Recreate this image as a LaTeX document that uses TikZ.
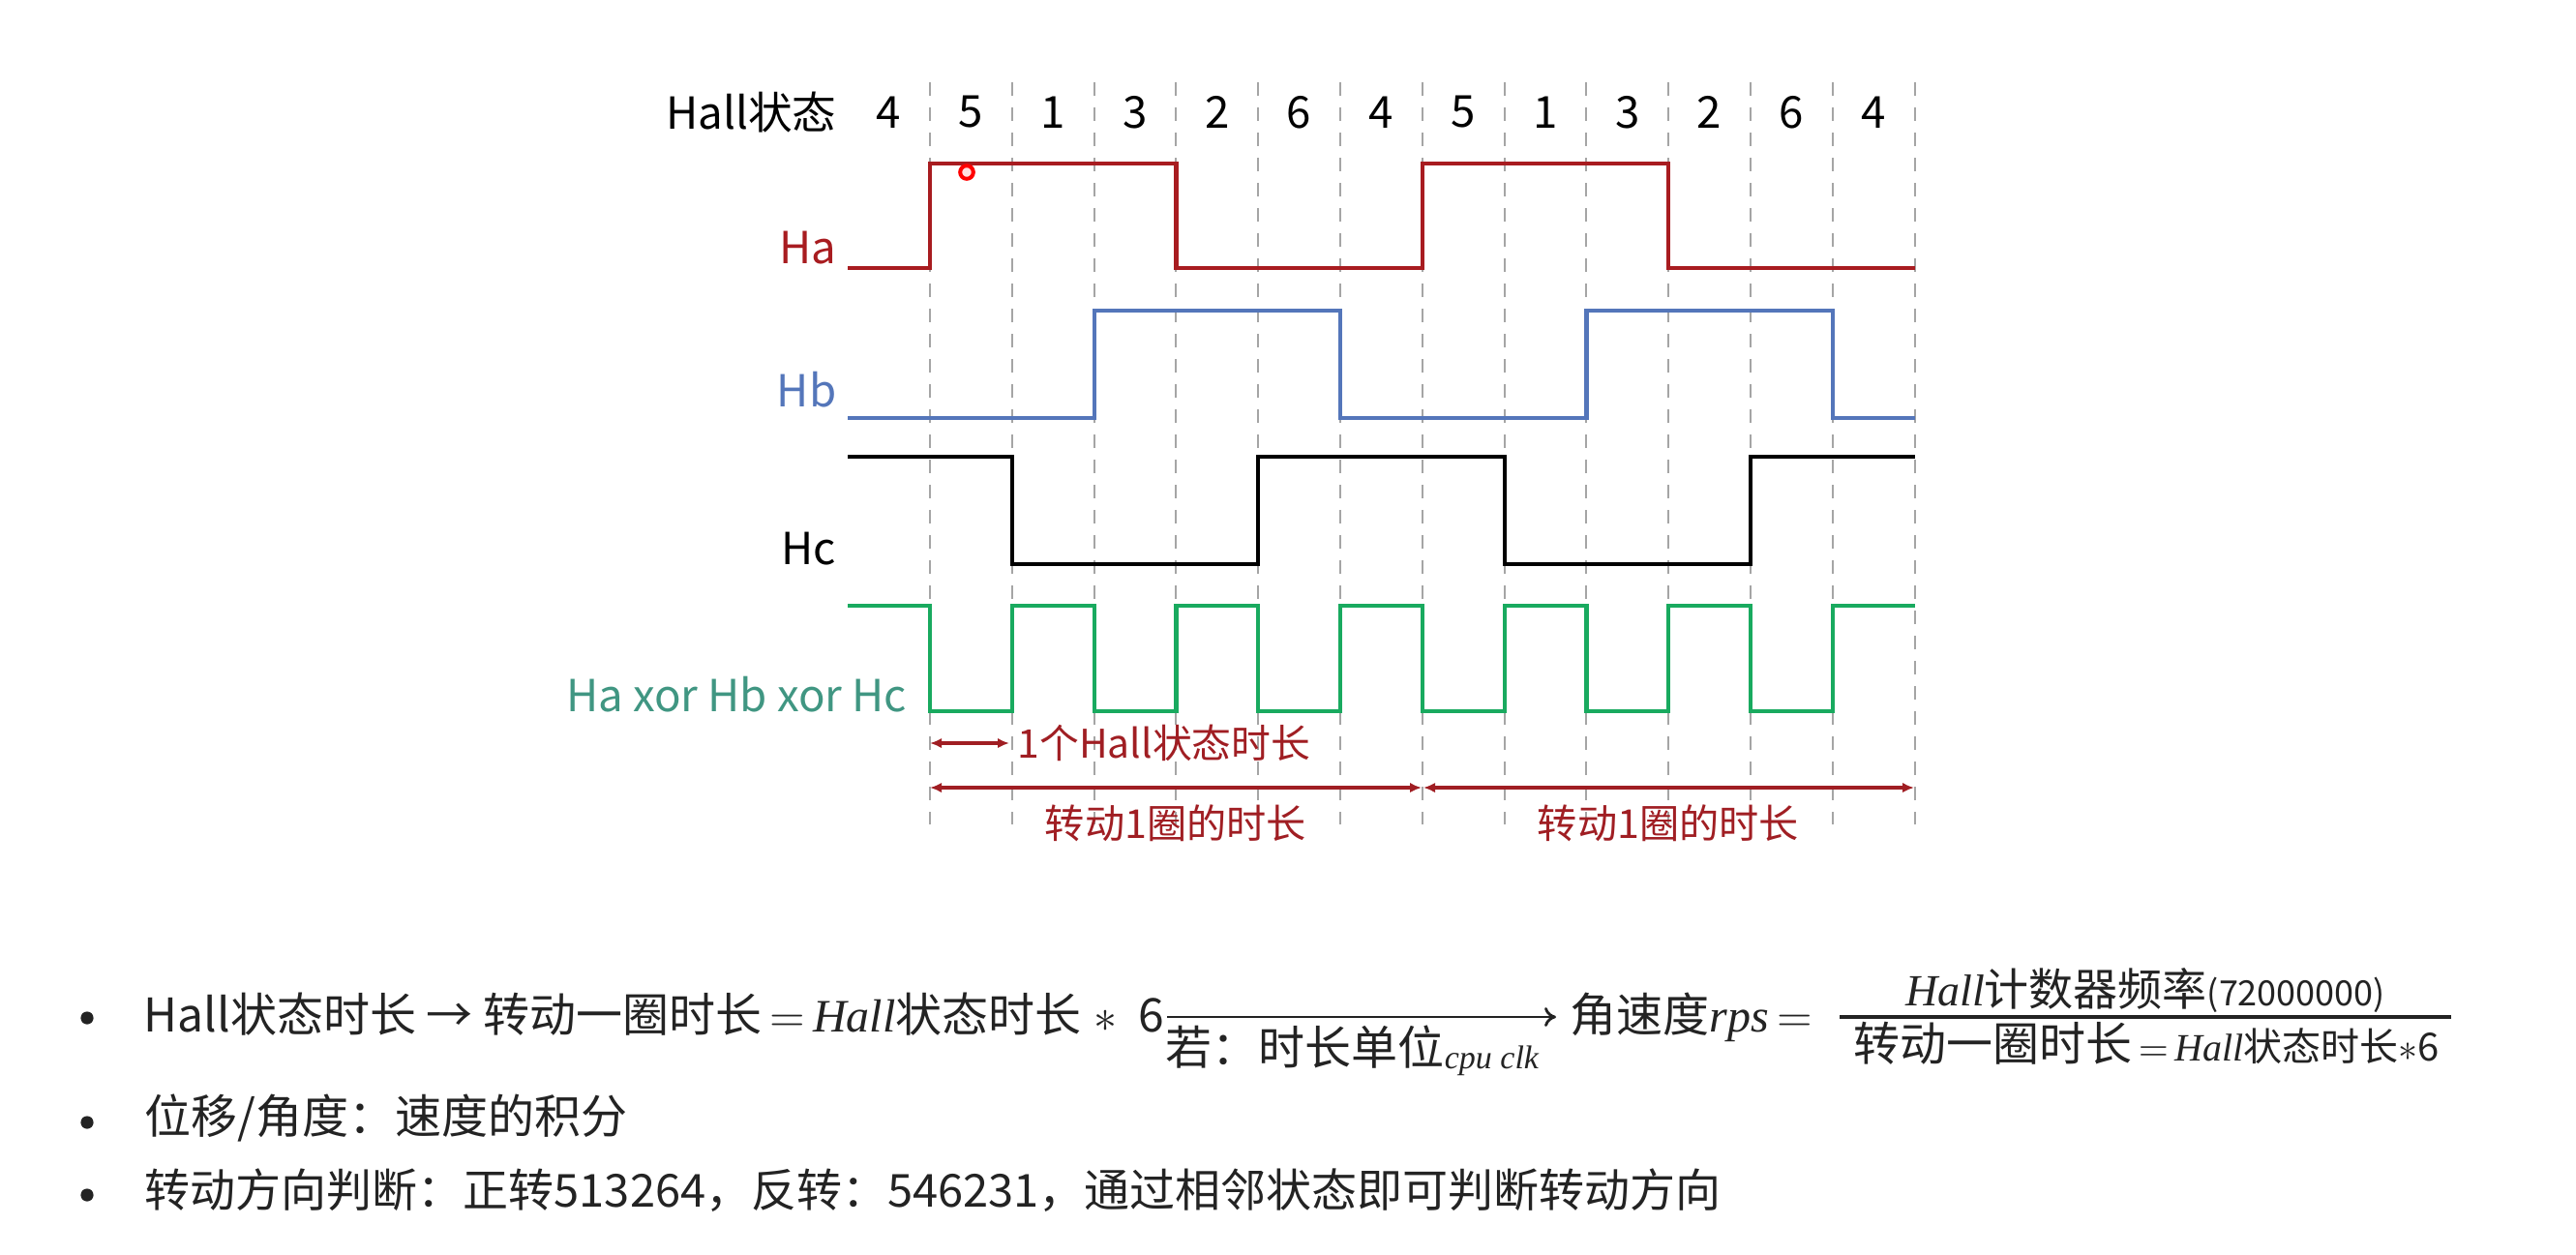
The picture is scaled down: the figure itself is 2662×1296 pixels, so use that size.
\documentclass[tikz,border=0pt]{standalone}
\usepackage{fontspec}
\setmainfont{Noto Sans CJK SC}
\newfontfamily\italf{Liberation Serif}
\usetikzlibrary{arrows.meta}
\definecolor{hared}{RGB}{168,28,32}
\definecolor{hbblue}{RGB}{84,118,186}
\definecolor{xorgreen}{RGB}{25,170,95}
\definecolor{xorteal}{RGB}{64,150,130}
\definecolor{annred}{RGB}{160,30,35}
\definecolor{gridgray}{RGB}{165,165,165}
\definecolor{txtgray}{RGB}{35,35,35}
\newcommand{\fs}[1]{\fontsize{#1}{#1}\selectfont}
\newcommand{\myit}[1]{{\italf\itshape #1}}
\begin{document}
\begin{tikzpicture}[x=0.25pt,y=-0.25pt,
  gridline/.style={gridgray, line width=0.5pt, dash pattern=on 3.5pt off 3pt},
  wave/.style={line width=1.05pt, line join=miter},
  siglabel/.style={anchor=east, inner sep=0pt, font=\fs{11.4pt}},
  num/.style={inner sep=0pt, font=\fs{11.4pt}, text=black},
  ann/.style={annred, line width=0.8pt, {Latex[length=3pt,width=2.6pt]}-{Latex[length=3pt,width=2.6pt]}},
  anntext/.style={inner sep=0pt, text=annred},
  bodytext/.style={anchor=base west, inner sep=0pt, font=\fs{12pt}, text=txtgray},
  bulletdot/.style={circle, fill=txtgray, inner sep=0pt, minimum size=3.3pt}]
\useasboundingbox (0,0) rectangle (2662,1296);
\fill[white] (0,0) rectangle (2662,1296);
% grid
\foreach \k in {0,...,12} \draw[gridline] ({961+84.8*\k},85) -- ({961+84.8*\k},852);
% Hall states
\node[siglabel, text=black] (hall) at (865,116) {Hall状态};
\foreach \s [count=\k from 0] in {4,5,1,3,2,6,4,5,1,3,2,6,4}
  \node[num] (n\k) at ({961+84.8*(\k-0.5)},116) {\s};
% waveforms
\draw[wave, hared] (876,277) -| (961,169) -| (1215.4,277) -| (1469.8,169) -| (1724.2,277) -- (1979,277);
\draw[wave, hbblue] (876,432) -| (1130.6,321) -| (1385,432) -| (1639.4,321) -| (1893.8,432) -- (1979,432);
\draw[wave, black] (876,472) -| (1045.8,583) -| (1300.2,472) -| (1554.6,583) -| (1809,472) -- (1979,472);
\draw[wave, xorgreen] (876,626) -| (961,735) -| (1045.8,626) -| (1130.6,735) -| (1215.4,626) -| (1300.2,735) -| (1385,626) -| (1469.8,735) -| (1554.6,626) -| (1639.4,735) -| (1724.2,626) -| (1809,735) -| (1893.8,626) -- (1979,626);
\node[circle, draw=red, line width=1pt, fill=red!12, minimum size=3.4pt, inner sep=0pt] (cursor) at (999,178) {};
% labels
\node[siglabel, text=hared] (ha) at (865,256) {Ha};
\node[siglabel, text=hbblue] (hb) at (865,403) {Hb};
\node[siglabel, text=black] (hc) at (865,567) {Hc};
\node[siglabel, text=xorteal] (xor) at (938,718) {Ha xor Hb xor Hc};
% annotations
\coordinate (a1s) at (961,768);
\coordinate (a1e) at (1043,768);
\draw[ann] (a1s) -- (a1e);
\node[anntext, anchor=west, font=\fs{10.2pt}] (t1) at (1051,768) {1个Hall状态时长};
\coordinate (r1s) at (961,814);
\coordinate (r1m) at (1469,814);
\coordinate (r1m2) at (1471,814);
\coordinate (r1e) at (1978,814);
\draw[ann] (r1s) -- (r1m);
\draw[ann] (r1m2) -- (r1e);
\node[anntext, font=\fs{10.3pt}] (t2) at (1215,851) {转动1圈的时长};
\node[anntext, font=\fs{10.3pt}] (t3) at (1724,851) {转动1圈的时长};
% bottom text
\node[bulletdot] (b1) at (90,1052) {};
\node[bodytext] (l1) at (148,1066) {Hall状态时长 → 转动一圈时长\,$=$\,\myit{Hall}状态时长\;$\ast$\;\,6};
\coordinate (xs) at (1206,1051);
\coordinate (xe) at (1608,1051);
\draw[txtgray, line width=0.7pt, -{To[length=3pt,width=5pt]}] (xs) -- (xe);
\node[bodytext] (cond) at (1204,1100) {若：时长单位\raisebox{-1pt}{\fs{8.5pt}\myit{cpu clk}}};
\node[bodytext] (w) at (1622,1066) {角速度\myit{rps}\,$=$};
\coordinate (fs) at (1901,1051);
\coordinate (fe) at (2533,1051);
\draw[txtgray, line width=0.8pt] (fs) -- (fe);
\node[bodytext, anchor=base, font=\fs{11.5pt}] (numer) at (2217,1039) {\myit{Hall}计数器频率{\fs{9pt}(72000000)}};
\node[bodytext, anchor=base, font=\fs{12pt}] (denom) at (2218,1096) {转动一圈时长{\fs{10pt}\,$=$\,\myit{Hall}状态时长$\ast$6}};
\node[bulletdot] (b2) at (90,1160) {};
\node[bodytext] (l2) at (149,1171) {位移/角度：速度的积分};
\node[bulletdot] (b3) at (90,1235) {};
\node[bodytext, font=\fs{11.75pt}] (l3) at (149,1247) {转动方向判断：正转513264，反转：546231，通过相邻状态即可判断转动方向};
\end{tikzpicture}
\end{document}
